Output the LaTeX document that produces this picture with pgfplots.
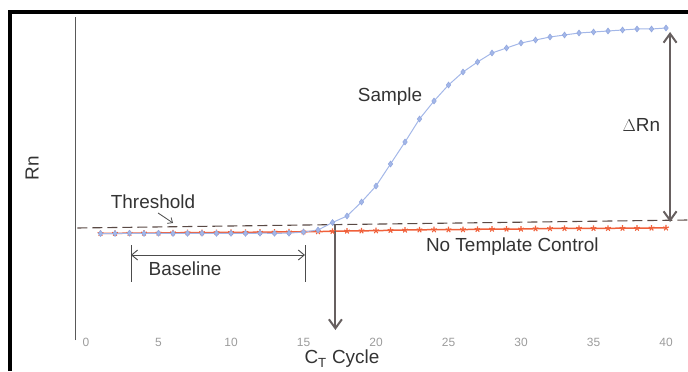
\documentclass[border=0pt]{standalone}
\usepackage{pgfplots}
\pgfplotsset{compat=1.18}
\usepackage{fontspec}
\setmainfont{Liberation Sans}
\usetikzlibrary{arrows.meta}
\definecolor{samp}{HTML}{A3B7E8}
\definecolor{sampd}{HTML}{8FA5DE}
\definecolor{ntc}{HTML}{F0603A}
\definecolor{thr}{HTML}{5A4A45}
\definecolor{arr}{HTML}{676060}
\definecolor{tick}{HTML}{9C9C9C}
\begin{document}
\begin{tikzpicture}[x=1bp,y=1bp]
\useasboundingbox (0,0) rectangle (688,371);
\begin{axis}[
  at={(75bp,31bp)}, anchor=south west,
  scale only axis, width=613bp, height=323bp,
  xmin=-0.7586, xmax=41.517, ymin=0, ymax=3.23,
  clip=false,
  axis x line=bottom, axis y line=left,
  x axis line style={draw=none},
  y axis line style={-, draw=black!65, line width=0.8bp},
  xtick={0,5,...,40}, ytick=\empty,
  tick style={draw=none},
  /pgf/number format/assume math mode=true,
  xticklabel style={font=\fontsize{12}{13}\selectfont, text=tick, yshift=5.5bp, inner sep=1bp},
]
% threshold
\addplot[thr, line width=1.1bp, dash pattern=on 10bp off 5bp] coordinates {(-0.6,1.12) (41.5,1.20)};
% No template control
\addplot[ntc, line width=1.5bp, mark=star, mark size=3bp, mark options={solid, ntc, line width=1.1bp}] coordinates {
(1,1.066) (2,1.067) (3,1.068) (4,1.070) (5,1.070) (6,1.072) (7,1.073) (8,1.074) (9,1.075) (10,1.076)
(11,1.077) (12,1.078) (13,1.080) (14,1.081) (15,1.082) (16,1.084) (17,1.087) (18,1.090) (19,1.092) (20,1.093)
(21,1.097) (22,1.100) (23,1.102) (24,1.103) (25,1.103) (26,1.104) (27,1.107) (28,1.109) (29,1.110) (30,1.110)
(31,1.113) (32,1.115) (33,1.116) (34,1.117) (35,1.117) (36,1.117) (37,1.118) (38,1.118) (39,1.120) (40,1.121)};
% Sample
\addplot[samp, line width=1bp, mark=diamond*, mark size=3bp, mark options={fill=samp, draw=sampd, line width=0.5bp}] coordinates {
(1,1.065) (2,1.065) (3,1.068) (4,1.065) (5,1.067) (6,1.065) (7,1.066) (8,1.067) (9,1.066) (10,1.067)
(11,1.066) (12,1.068) (13,1.067) (14,1.068) (15,1.08) (16,1.10) (17,1.175) (18,1.24) (19,1.38) (20,1.54)
(21,1.76) (22,1.98) (23,2.21) (24,2.39) (25,2.55) (26,2.68) (27,2.78) (28,2.87) (29,2.92) (30,2.97)
(31,3.00) (32,3.03) (33,3.05) (34,3.07) (35,3.08) (36,3.09) (37,3.10) (38,3.11) (39,3.11) (40,3.12)};
% Ct arrow
\draw[arr, line width=2bp, -{Straight Barb[length=9bp,width=13bp,line width=2bp]}] (axis cs:17.2,1.16) -- (axis cs:17.2,0.10);
% Delta Rn arrow
\draw[arr, line width=2bp, {Straight Barb[length=9bp,width=13bp,line width=2bp]}-{Straight Barb[length=9bp,width=13bp,line width=2bp]}] (axis cs:40.28,3.08) -- (axis cs:40.28,1.18);
% Baseline bracket
\draw[black!70, line width=0.9bp] (axis cs:3.1,0.95) -- (axis cs:3.1,0.58);
\draw[black!70, line width=0.9bp] (axis cs:15.1,0.95) -- (axis cs:15.1,0.58);
\draw[black!70, line width=0.9bp, {Straight Barb[length=6bp,width=10bp]}-{Straight Barb[length=6bp,width=10bp]}] (axis cs:3.1,0.85) -- (axis cs:15.1,0.85);
% threshold leader
\draw[black!70, line width=0.8bp, -{Straight Barb[length=4bp,width=7bp]}] (axis cs:4.97,1.27) -- (axis cs:6.0,1.17);
% labels
\node[font=\fontsize{19}{20}\selectfont, text=black!80] at (axis cs:4.62,1.38) {Threshold};
\node[font=\fontsize{19}{20}\selectfont, text=black!80] at (axis cs:6.83,0.71) {Baseline};
\node[font=\fontsize{19}{20}\selectfont, text=black!80] at (axis cs:20.97,2.43) {Sample};
\node[font=\fontsize{19}{20}\selectfont, text=black!80] at (axis cs:29.4,0.93) {No Template Control};
\node[font=\fontsize{19}{20}\selectfont, text=black!80] at (axis cs:38.3,2.15) {$\Delta$Rn};
\node[font=\fontsize{19}{20}\selectfont, text=black!80, rotate=90] at (axis cs:-3.72,1.72) {Rn};
\node[font=\fontsize{19}{20}\selectfont, text=black!80, inner sep=1bp] at (axis cs:17.65,-0.19) {C\textsubscript{T} Cycle};
\end{axis}
\draw[black, line width=4bp] (9.5,0) -- (9.5,359) -- (688,359);
\end{tikzpicture}
\end{document}
